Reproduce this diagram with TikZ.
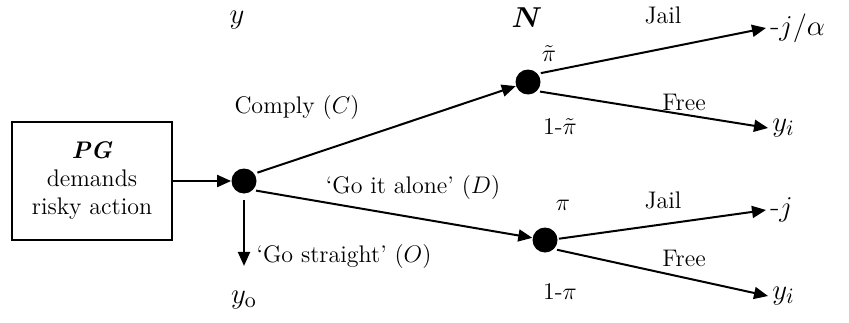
\documentclass[tikz,border=0pt]{standalone}
\usepackage{amsmath}
\usetikzlibrary{arrows.meta}

\begin{document}
\begin{tikzpicture}[x=0.5pt, y=0.5pt, font=\fontsize{12}{14}\selectfont]
		% Define styles
		\tikzstyle{actorbox} = [rectangle, draw, line width=0.9pt, minimum width=80pt, minimum height=59pt, align=center, inner sep=2pt]
		\tikzstyle{choice} = [circle, fill=black, minimum size=12.5pt, inner sep=0pt]
		\tikzstyle{payoff} = [anchor=west, inner sep=2pt, font=\fontsize{15}{17}\selectfont]
		\tikzstyle{bigsym} = [font=\fontsize{15}{17}\selectfont]
		\tikzstyle{tag} = [inner sep=1pt]
		\tikzstyle{branch} = [line width=1pt, -{Triangle[length=7pt, width=6pt]}]

		\useasboundingbox (0,0) rectangle (849,322);

		% Nodes
		\node[actorbox] (pg) at (92,141) {\textbf{\textit{PG}}\\demands\\risky action};
		\node[choice] (root) at (244,141) {};
		\node[choice] (comply) at (528,240) {};
		\node[choice] (alone) at (545,82) {};
		\node[bigsym] (yo) at (244,22) {$y_{\mathrm{o}}$};
		\node[payoff] (jailC) at (766,294) {-$j/\alpha$};
		\node[payoff] (freeC) at (768,194) {$y_i$};
		\node[payoff] (jailD) at (766,112) {-$j$};
		\node[payoff] (freeD) at (768,26) {$y_i$};

		% Labels
		\node[bigsym] at (237,302) {$y$};
		\node[bigsym] at (527,304) {$\boldsymbol{N}$};
		\node[tag] at (297,214) {Comply ($C$)};
		\node[tag] at (413,134) {`Go it alone' ($D$)};
		\node[tag] at (344,65) {`Go straight' ($O$)};
		\node[tag] at (549,268) {$\tilde{\pi}$};
		\node[tag] at (560,195) {1-$\tilde{\pi}$};
		\node[tag] at (563,117) {$\pi$};
		\node[tag] at (560,30) {1-$\pi$};
		\node[tag] at (663,307) {Jail};
		\node[tag] at (684,220) {Free};
		\node[tag] at (663,122) {Jail};
		\node[tag] at (684,64) {Free};

		% Arrows
		\draw[branch] (pg) -- (root);
		\draw[branch, shorten <=1.5pt] (root.35) -- (comply);
		\draw[branch, shorten <=1.5pt] (root.-45) -- (alone);
		\draw[branch, shorten <=3pt, shorten >=9pt] (root.-90) -- (yo.north);
		\draw[branch, shorten <=1.5pt] (comply.40) -- (jailC.west);
		\draw[branch, shorten <=1.5pt] (comply.-45) -- (freeC.west);
		\draw[branch, shorten <=0.5pt] (alone.5) -- (jailD.west);
		\draw[branch, shorten <=1.5pt] (alone.-45) -- (freeD.west);
	\end{tikzpicture}
\end{document}
